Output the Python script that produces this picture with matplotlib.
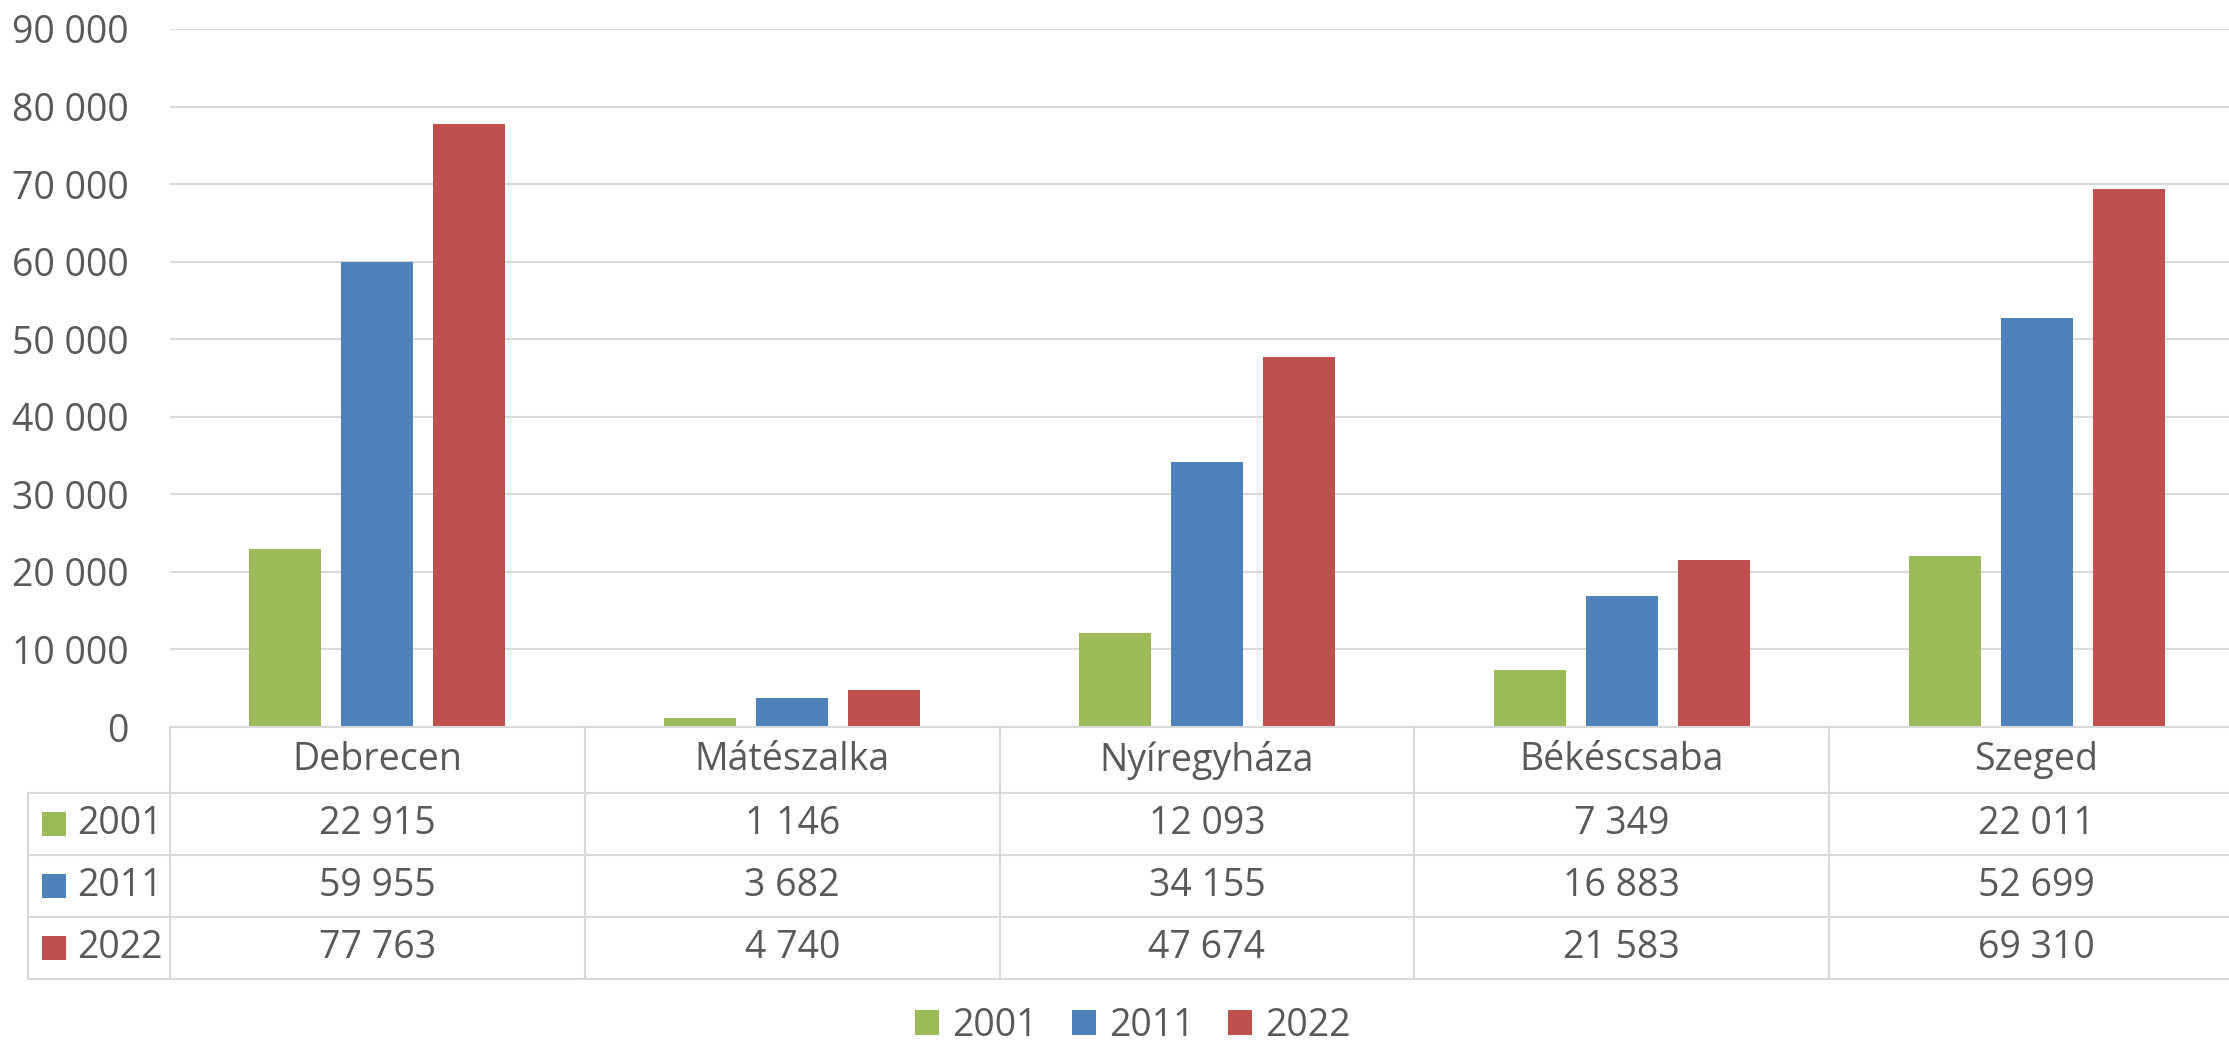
import numpy as np
import matplotlib.pyplot as plt
from matplotlib.lines import Line2D
from matplotlib.patches import Rectangle
from matplotlib import transforms
from matplotlib.ticker import FuncFormatter

cities = ["Debrecen", "Mátészalka", "Nyíregyháza", "Békéscsaba", "Szeged"]
years = ["2001", "2011", "2022"]
v2001 = [22915, 1146, 12093, 7349, 22011]
v2011 = [59955, 3682, 34155, 16883, 52699]
v2022 = [77763, 4740, 47674, 21583, 69310]
series = [v2001, v2011, v2022]
colors = ["#9BBB59", "#4F81BD", "#C0504D"]

W, H = 2229, 1041
txt = "#595959"
grid = "#D9D9D9"
plt.rcParams['font.family'] = ['Open Sans', 'DejaVu Sans']
fs = 27

fig = plt.figure(figsize=(W / 100, H / 100), dpi=100)
# plot area in pixels (from top): left 170, right 2244 (past the edge), top 29, bottom 727
ax = fig.add_axes([170 / W, 1 - 727 / H, (2244 - 170) / W, (727 - 29) / H])

x = np.arange(len(cities))
bw = 0.1735
step = 0.2217
for k in range(3):
    ax.bar(x + (k - 1) * step, series[k], width=bw, color=colors[k], zorder=3)

ax.set_xlim(-0.5, len(cities) - 0.5)
ax.set_ylim(0, 90000)
ax.set_yticks(np.arange(0, 90001, 10000))
ax.yaxis.set_major_formatter(FuncFormatter(lambda v, p: f"{int(v):,}".replace(",", " ")))
ax.tick_params(axis='y', length=0, pad=30, labelsize=fs, labelcolor=txt)
ax.set_xticks([])
ax.grid(axis='y', color=grid, linewidth=1.5, zorder=0)
for s in ax.spines.values():
    s.set_visible(False)

# data table below the chart
def fy(py):
    return 1 - py / H

def fx(px):
    return px / W

blend = transforms.blended_transform_factory(ax.transData, fig.transFigure)
rows_y = [727, 793, 855, 917, 979]
lw = 1.5
# horizontal lines
fig.add_artist(Line2D([-0.5, len(cities) - 0.5], [fy(727)] * 2, transform=blend, color=grid, lw=lw))
for py in rows_y[1:]:
    fig.add_artist(Line2D([fx(28), 1.02], [fy(py)] * 2, transform=fig.transFigure, color=grid, lw=lw))
# vertical lines
fig.add_artist(Line2D([fx(28)] * 2, [fy(793), fy(979)], transform=fig.transFigure, color=grid, lw=lw))
for b in np.arange(-0.5, len(cities) - 0.5, 1.0):
    fig.add_artist(Line2D([b, b], [fy(727), fy(979)], transform=blend, color=grid, lw=lw))

# header
for i, c in enumerate(cities):
    fig.text(i, fy(760), c, transform=blend, ha='center', va='center', fontsize=fs, color=txt)
# rows
for k in range(3):
    yc = (rows_y[k + 1] + rows_y[k + 2]) / 2
    fig.add_artist(Rectangle((fx(42), fy(yc + 12)), 24 / W, 24 / H, transform=fig.transFigure,
                             facecolor=colors[k], edgecolor='none'))
    fig.text(fx(77), fy(yc), years[k], ha='left', va='center', fontsize=fs, color=txt)
    for i in range(len(cities)):
        fig.text(i, fy(yc), f"{series[k][i]:,}".replace(",", " "), transform=blend,
                 ha='center', va='center', fontsize=fs, color=txt)

# legend
handles = [Rectangle((0, 0), 1, 1, facecolor=colors[k], edgecolor='none') for k in range(3)]
fig.legend(handles, years, loc='center', bbox_to_anchor=(fx(1133), fy(1026)), ncol=3,
           frameon=False, fontsize=fs, labelcolor=txt, handlelength=0.64, handleheight=0.64,
           handletextpad=0.35, columnspacing=0.9, borderaxespad=0, borderpad=0)

fig.savefig("out.png", dpi=100)
